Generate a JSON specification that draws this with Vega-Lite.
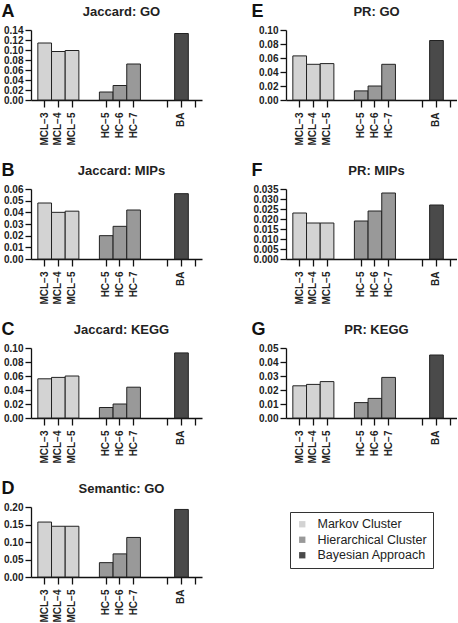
{
  "$schema": "https://vega.github.io/schema/vega-lite/v6.json",
  "padding": {"left": 1, "top": 2, "right": 0, "bottom": 0},
  "background": "white",
  "bounds": "flush",
  "columns": 2,
  "spacing": {"row": 89, "column": 84},
  "resolve": {"scale": {"color": "shared", "x": "independent", "y": "independent"}, "legend": {"color": "shared"}},
  "data": {"values": [
    {"panel": "Jaccard: GO", "method": "MCL-3", "group": "Markov Cluster", "value": 0.114},
    {"panel": "Jaccard: GO", "method": "MCL-4", "group": "Markov Cluster", "value": 0.097},
    {"panel": "Jaccard: GO", "method": "MCL-5", "group": "Markov Cluster", "value": 0.099},
    {"panel": "Jaccard: GO", "method": "HC-5", "group": "Hierarchical Cluster", "value": 0.016},
    {"panel": "Jaccard: GO", "method": "HC-6", "group": "Hierarchical Cluster", "value": 0.029},
    {"panel": "Jaccard: GO", "method": "HC-7", "group": "Hierarchical Cluster", "value": 0.072},
    {"panel": "Jaccard: GO", "method": "BA", "group": "Bayesian Approach", "value": 0.133},
    {"panel": "PR: GO", "method": "MCL-3", "group": "Markov Cluster", "value": 0.063},
    {"panel": "PR: GO", "method": "MCL-4", "group": "Markov Cluster", "value": 0.051},
    {"panel": "PR: GO", "method": "MCL-5", "group": "Markov Cluster", "value": 0.052},
    {"panel": "PR: GO", "method": "HC-5", "group": "Hierarchical Cluster", "value": 0.013},
    {"panel": "PR: GO", "method": "HC-6", "group": "Hierarchical Cluster", "value": 0.020},
    {"panel": "PR: GO", "method": "HC-7", "group": "Hierarchical Cluster", "value": 0.051},
    {"panel": "PR: GO", "method": "BA", "group": "Bayesian Approach", "value": 0.085},
    {"panel": "Jaccard: MIPs", "method": "MCL-3", "group": "Markov Cluster", "value": 0.048},
    {"panel": "Jaccard: MIPs", "method": "MCL-4", "group": "Markov Cluster", "value": 0.040},
    {"panel": "Jaccard: MIPs", "method": "MCL-5", "group": "Markov Cluster", "value": 0.041},
    {"panel": "Jaccard: MIPs", "method": "HC-5", "group": "Hierarchical Cluster", "value": 0.020},
    {"panel": "Jaccard: MIPs", "method": "HC-6", "group": "Hierarchical Cluster", "value": 0.028},
    {"panel": "Jaccard: MIPs", "method": "HC-7", "group": "Hierarchical Cluster", "value": 0.042},
    {"panel": "Jaccard: MIPs", "method": "BA", "group": "Bayesian Approach", "value": 0.056},
    {"panel": "PR: MIPs", "method": "MCL-3", "group": "Markov Cluster", "value": 0.023},
    {"panel": "PR: MIPs", "method": "MCL-4", "group": "Markov Cluster", "value": 0.018},
    {"panel": "PR: MIPs", "method": "MCL-5", "group": "Markov Cluster", "value": 0.018},
    {"panel": "PR: MIPs", "method": "HC-5", "group": "Hierarchical Cluster", "value": 0.019},
    {"panel": "PR: MIPs", "method": "HC-6", "group": "Hierarchical Cluster", "value": 0.024},
    {"panel": "PR: MIPs", "method": "HC-7", "group": "Hierarchical Cluster", "value": 0.033},
    {"panel": "PR: MIPs", "method": "BA", "group": "Bayesian Approach", "value": 0.027},
    {"panel": "Jaccard: KEGG", "method": "MCL-3", "group": "Markov Cluster", "value": 0.056},
    {"panel": "Jaccard: KEGG", "method": "MCL-4", "group": "Markov Cluster", "value": 0.058},
    {"panel": "Jaccard: KEGG", "method": "MCL-5", "group": "Markov Cluster", "value": 0.060},
    {"panel": "Jaccard: KEGG", "method": "HC-5", "group": "Hierarchical Cluster", "value": 0.015},
    {"panel": "Jaccard: KEGG", "method": "HC-6", "group": "Hierarchical Cluster", "value": 0.020},
    {"panel": "Jaccard: KEGG", "method": "HC-7", "group": "Hierarchical Cluster", "value": 0.044},
    {"panel": "Jaccard: KEGG", "method": "BA", "group": "Bayesian Approach", "value": 0.093},
    {"panel": "PR: KEGG", "method": "MCL-3", "group": "Markov Cluster", "value": 0.023},
    {"panel": "PR: KEGG", "method": "MCL-4", "group": "Markov Cluster", "value": 0.024},
    {"panel": "PR: KEGG", "method": "MCL-5", "group": "Markov Cluster", "value": 0.026},
    {"panel": "PR: KEGG", "method": "HC-5", "group": "Hierarchical Cluster", "value": 0.011},
    {"panel": "PR: KEGG", "method": "HC-6", "group": "Hierarchical Cluster", "value": 0.014},
    {"panel": "PR: KEGG", "method": "HC-7", "group": "Hierarchical Cluster", "value": 0.029},
    {"panel": "PR: KEGG", "method": "BA", "group": "Bayesian Approach", "value": 0.045},
    {"panel": "Semantic: GO", "method": "MCL-3", "group": "Markov Cluster", "value": 0.157},
    {"panel": "Semantic: GO", "method": "MCL-4", "group": "Markov Cluster", "value": 0.145},
    {"panel": "Semantic: GO", "method": "MCL-5", "group": "Markov Cluster", "value": 0.145},
    {"panel": "Semantic: GO", "method": "HC-5", "group": "Hierarchical Cluster", "value": 0.041},
    {"panel": "Semantic: GO", "method": "HC-6", "group": "Hierarchical Cluster", "value": 0.066},
    {"panel": "Semantic: GO", "method": "HC-7", "group": "Hierarchical Cluster", "value": 0.113},
    {"panel": "Semantic: GO", "method": "BA", "group": "Bayesian Approach", "value": 0.193}
  ]},
  "concat": [
    {
      "title": {"text": "Jaccard: GO"},
      "width": 171, "height": 70,
      "transform": [{"filter": "datum.panel == 'Jaccard: GO'"}],
      "mark": {"type": "bar", "width": {"band": 2}, "stroke": "#222", "strokeWidth": 1},
      "encoding": {
        "x": {"field": "method", "type": "nominal", "title": null,
          "scale": {"domain": ["p0","MCL-3","p2","MCL-4","p4","MCL-5","p6","p7","p8","p9","HC-5","p11","HC-6","p13","HC-7","p15","p16","p17","p18"," ","p20","BA","p22","  "], "paddingInner": 0, "paddingOuter": 0.5},
          "axis": {"values": ["MCL-3","MCL-4","MCL-5","HC-5","HC-6","HC-7"," ","BA","  "], "labelExpr": "replace(datum.value, '-', '−')"}},
        "y": {"field": "value", "type": "quantitative", "scale": {"domain": [0, 0.14], "nice": false},
          "axis": {"title": "A", "titleX": -30, "values": [0, 0.02, 0.04, 0.06, 0.08, 0.1, 0.12, 0.14], "format": ".2f"}},
        "color": {"field": "group", "type": "nominal", "scale": {"domain": ["Markov Cluster", "Hierarchical Cluster", "Bayesian Approach"], "range": ["#d3d3d3", "#999999", "#4a4a4a"]},
          "legend": {"orient": "none", "legendX": 259, "legendY": 482, "title": null}}
      }
    },
    {
      "title": {"text": "PR: GO"},
      "width": 171, "height": 70,
      "transform": [{"filter": "datum.panel == 'PR: GO'"}],
      "mark": {"type": "bar", "width": {"band": 2}, "stroke": "#222", "strokeWidth": 1},
      "encoding": {
        "x": {"field": "method", "type": "nominal", "title": null,
          "scale": {"domain": ["p0","MCL-3","p2","MCL-4","p4","MCL-5","p6","p7","p8","p9","HC-5","p11","HC-6","p13","HC-7","p15","p16","p17","p18"," ","p20","BA","p22","  "], "paddingInner": 0, "paddingOuter": 0.5},
          "axis": {"values": ["MCL-3","MCL-4","MCL-5","HC-5","HC-6","HC-7"," ","BA","  "], "labelExpr": "replace(datum.value, '-', '−')"}},
        "y": {"field": "value", "type": "quantitative", "scale": {"domain": [0, 0.10], "nice": false},
          "axis": {"title": "E", "titleX": -35, "values": [0, 0.02, 0.04, 0.06, 0.08, 0.1], "format": ".2f"}},
        "color": {"field": "group", "type": "nominal", "scale": {"domain": ["Markov Cluster", "Hierarchical Cluster", "Bayesian Approach"], "range": ["#d3d3d3", "#999999", "#4a4a4a"]},
          "legend": {"orient": "none", "legendX": 259, "legendY": 482, "title": null}}
      }
    },
    {
      "title": {"text": "Jaccard: MIPs"},
      "width": 171, "height": 70,
      "transform": [{"filter": "datum.panel == 'Jaccard: MIPs'"}],
      "mark": {"type": "bar", "width": {"band": 2}, "stroke": "#222", "strokeWidth": 1},
      "encoding": {
        "x": {"field": "method", "type": "nominal", "title": null,
          "scale": {"domain": ["p0","MCL-3","p2","MCL-4","p4","MCL-5","p6","p7","p8","p9","HC-5","p11","HC-6","p13","HC-7","p15","p16","p17","p18"," ","p20","BA","p22","  "], "paddingInner": 0, "paddingOuter": 0.5},
          "axis": {"values": ["MCL-3","MCL-4","MCL-5","HC-5","HC-6","HC-7"," ","BA","  "], "labelExpr": "replace(datum.value, '-', '−')"}},
        "y": {"field": "value", "type": "quantitative", "scale": {"domain": [0, 0.06], "nice": false},
          "axis": {"title": "B", "titleX": -30, "values": [0, 0.01, 0.02, 0.03, 0.04, 0.05, 0.06], "format": ".2f"}},
        "color": {"field": "group", "type": "nominal", "scale": {"domain": ["Markov Cluster", "Hierarchical Cluster", "Bayesian Approach"], "range": ["#d3d3d3", "#999999", "#4a4a4a"]},
          "legend": {"orient": "none", "legendX": 259, "legendY": 482, "title": null}}
      }
    },
    {
      "title": {"text": "PR: MIPs"},
      "width": 171, "height": 70,
      "transform": [{"filter": "datum.panel == 'PR: MIPs'"}],
      "mark": {"type": "bar", "width": {"band": 2}, "stroke": "#222", "strokeWidth": 1},
      "encoding": {
        "x": {"field": "method", "type": "nominal", "title": null,
          "scale": {"domain": ["p0","MCL-3","p2","MCL-4","p4","MCL-5","p6","p7","p8","p9","HC-5","p11","HC-6","p13","HC-7","p15","p16","p17","p18"," ","p20","BA","p22","  "], "paddingInner": 0, "paddingOuter": 0.5},
          "axis": {"values": ["MCL-3","MCL-4","MCL-5","HC-5","HC-6","HC-7"," ","BA","  "], "labelExpr": "replace(datum.value, '-', '−')"}},
        "y": {"field": "value", "type": "quantitative", "scale": {"domain": [0, 0.035], "nice": false},
          "axis": {"title": "F", "titleX": -35, "values": [0, 0.005, 0.01, 0.015, 0.02, 0.025, 0.03, 0.035], "format": ".3f"}},
        "color": {"field": "group", "type": "nominal", "scale": {"domain": ["Markov Cluster", "Hierarchical Cluster", "Bayesian Approach"], "range": ["#d3d3d3", "#999999", "#4a4a4a"]},
          "legend": {"orient": "none", "legendX": 259, "legendY": 482, "title": null}}
      }
    },
    {
      "title": {"text": "Jaccard: KEGG"},
      "width": 171, "height": 70,
      "transform": [{"filter": "datum.panel == 'Jaccard: KEGG'"}],
      "mark": {"type": "bar", "width": {"band": 2}, "stroke": "#222", "strokeWidth": 1},
      "encoding": {
        "x": {"field": "method", "type": "nominal", "title": null,
          "scale": {"domain": ["p0","MCL-3","p2","MCL-4","p4","MCL-5","p6","p7","p8","p9","HC-5","p11","HC-6","p13","HC-7","p15","p16","p17","p18"," ","p20","BA","p22","  "], "paddingInner": 0, "paddingOuter": 0.5},
          "axis": {"values": ["MCL-3","MCL-4","MCL-5","HC-5","HC-6","HC-7"," ","BA","  "], "labelExpr": "replace(datum.value, '-', '−')"}},
        "y": {"field": "value", "type": "quantitative", "scale": {"domain": [0, 0.10], "nice": false},
          "axis": {"title": "C", "titleX": -30, "values": [0, 0.02, 0.04, 0.06, 0.08, 0.1], "format": ".2f"}},
        "color": {"field": "group", "type": "nominal", "scale": {"domain": ["Markov Cluster", "Hierarchical Cluster", "Bayesian Approach"], "range": ["#d3d3d3", "#999999", "#4a4a4a"]},
          "legend": {"orient": "none", "legendX": 259, "legendY": 482, "title": null}}
      }
    },
    {
      "title": {"text": "PR: KEGG"},
      "width": 171, "height": 70,
      "transform": [{"filter": "datum.panel == 'PR: KEGG'"}],
      "mark": {"type": "bar", "width": {"band": 2}, "stroke": "#222", "strokeWidth": 1},
      "encoding": {
        "x": {"field": "method", "type": "nominal", "title": null,
          "scale": {"domain": ["p0","MCL-3","p2","MCL-4","p4","MCL-5","p6","p7","p8","p9","HC-5","p11","HC-6","p13","HC-7","p15","p16","p17","p18"," ","p20","BA","p22","  "], "paddingInner": 0, "paddingOuter": 0.5},
          "axis": {"values": ["MCL-3","MCL-4","MCL-5","HC-5","HC-6","HC-7"," ","BA","  "], "labelExpr": "replace(datum.value, '-', '−')"}},
        "y": {"field": "value", "type": "quantitative", "scale": {"domain": [0, 0.05], "nice": false},
          "axis": {"title": "G", "titleX": -35, "values": [0, 0.01, 0.02, 0.03, 0.04, 0.05], "format": ".2f"}},
        "color": {"field": "group", "type": "nominal", "scale": {"domain": ["Markov Cluster", "Hierarchical Cluster", "Bayesian Approach"], "range": ["#d3d3d3", "#999999", "#4a4a4a"]},
          "legend": {"orient": "none", "legendX": 259, "legendY": 482, "title": null}}
      }
    },
    {
      "title": {"text": "Semantic: GO"},
      "width": 171, "height": 70,
      "transform": [{"filter": "datum.panel == 'Semantic: GO'"}],
      "mark": {"type": "bar", "width": {"band": 2}, "stroke": "#222", "strokeWidth": 1},
      "encoding": {
        "x": {"field": "method", "type": "nominal", "title": null,
          "scale": {"domain": ["p0","MCL-3","p2","MCL-4","p4","MCL-5","p6","p7","p8","p9","HC-5","p11","HC-6","p13","HC-7","p15","p16","p17","p18"," ","p20","BA","p22","  "], "paddingInner": 0, "paddingOuter": 0.5},
          "axis": {"values": ["MCL-3","MCL-4","MCL-5","HC-5","HC-6","HC-7"," ","BA","  "], "labelExpr": "replace(datum.value, '-', '−')"}},
        "y": {"field": "value", "type": "quantitative", "scale": {"domain": [0, 0.20], "nice": false},
          "axis": {"title": "D", "titleX": -30, "values": [0, 0.05, 0.1, 0.15, 0.2], "format": ".2f"}},
        "color": {"field": "group", "type": "nominal", "scale": {"domain": ["Markov Cluster", "Hierarchical Cluster", "Bayesian Approach"], "range": ["#d3d3d3", "#999999", "#4a4a4a"]},
          "legend": {"orient": "none", "legendX": 259, "legendY": 482, "title": null}}
      }
    }
  ],
  "config": {
    "view": {"stroke": null},
    "font": "Liberation Sans",
    "title": {"font": "Liberation Sans", "fontSize": 13, "fontWeight": "bold", "color": "#222", "frame": "group", "anchor": "middle", "dx": 5, "dy": 21, "offset": 4},
    "axis": {"grid": false, "domainColor": "#111", "tickColor": "#111", "domainWidth": 1.3, "tickWidth": 1.3,
      "labelFont": "Liberation Sans", "labelFontSize": 10, "labelFontWeight": "bold", "labelColor": "#222", "labelOverlap": false,
      "titleFont": "Liberation Sans", "titleFontSize": 18, "titleFontWeight": "bold", "titleColor": "#111"},
    "axisX": {"tickSize": 7, "labelPadding": 5, "labelAngle": -90},
    "axisY": {"tickSize": 6, "labelPadding": 2, "labelFontSize": 10, "titleAngle": 0, "titleAlign": "left", "titleBaseline": "alphabetic", "titleY": -14},
    "legend": {"strokeColor": "#333", "fillColor": "white", "padding": 6, "labelFont": "Liberation Sans", "labelFontSize": 12.5, "labelColor": "#222",
      "symbolType": "square", "symbolSize": 40, "symbolStrokeWidth": 0, "labelOffset": 9, "rowPadding": 2.5}
  }
}
